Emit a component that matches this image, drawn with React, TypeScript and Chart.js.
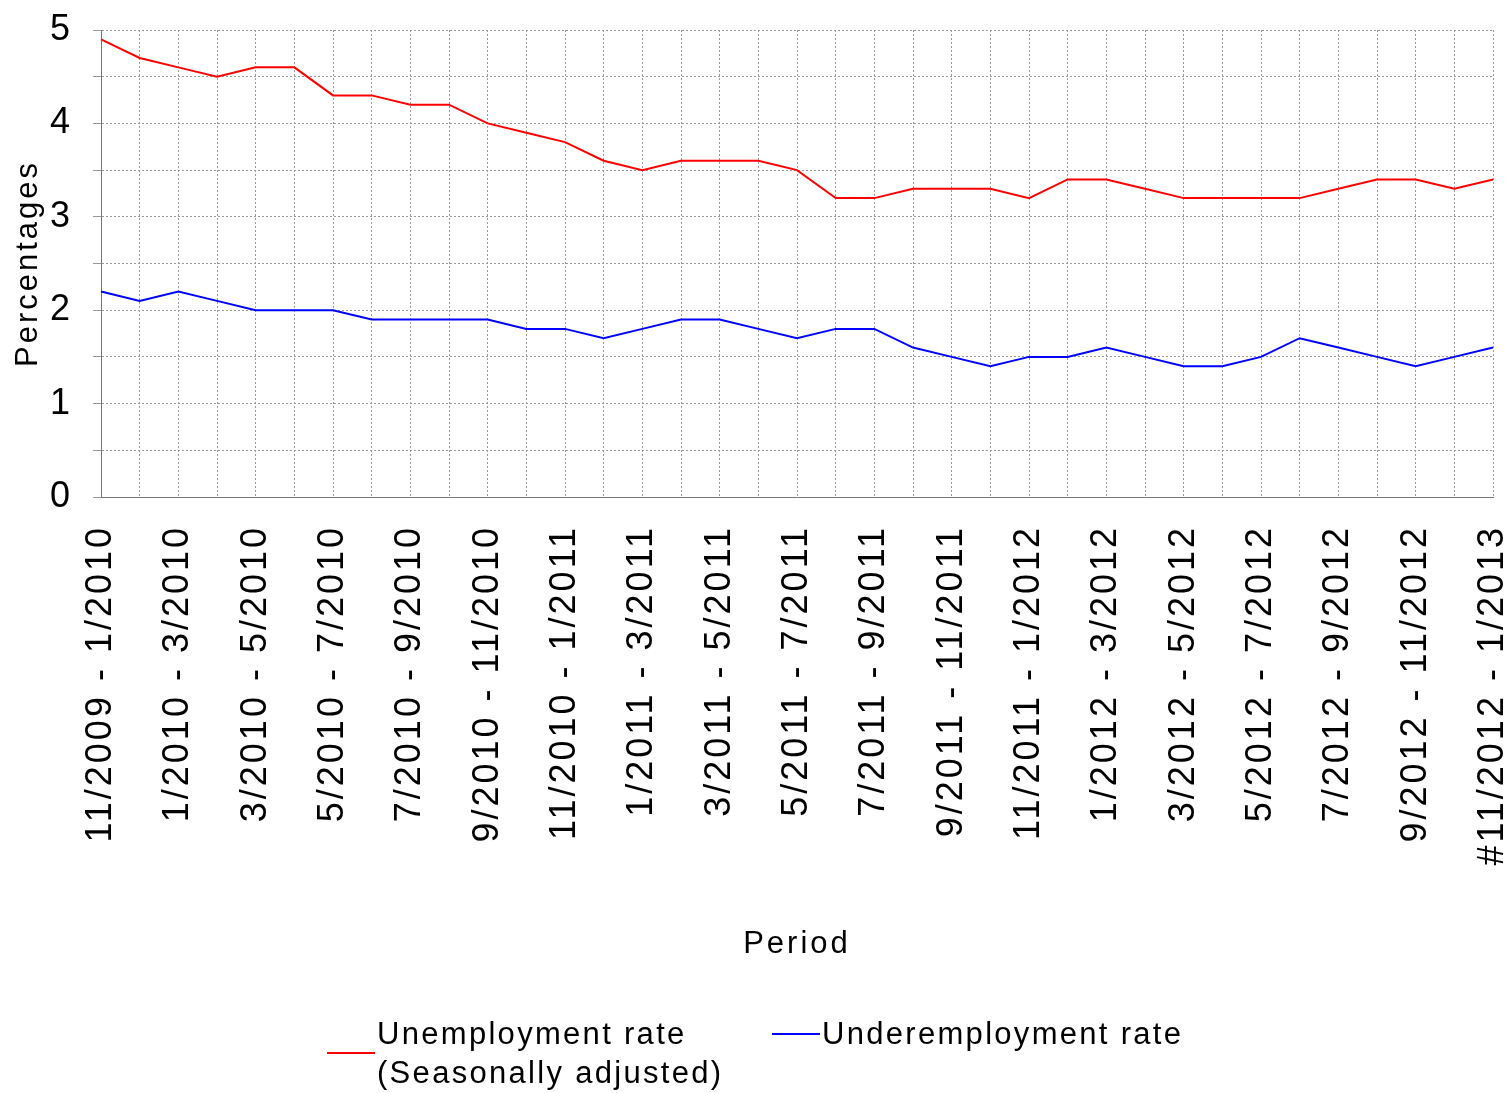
import React, { useEffect, useRef } from "react";
import { Chart, registerables } from "chart.js";
Chart.register(...registerables);

const periods = [
  "11/2009 - 1/2010","12/2009 - 2/2010","1/2010 - 3/2010","2/2010 - 4/2010","3/2010 - 5/2010","4/2010 - 6/2010",
  "5/2010 - 7/2010","6/2010 - 8/2010","7/2010 - 9/2010","8/2010 - 10/2010","9/2010 - 11/2010","10/2010 - 12/2010",
  "11/2010 - 1/2011","12/2010 - 2/2011","1/2011 - 3/2011","2/2011 - 4/2011","3/2011 - 5/2011","4/2011 - 6/2011",
  "5/2011 - 7/2011","6/2011 - 8/2011","7/2011 - 9/2011","8/2011 - 10/2011","9/2011 - 11/2011","10/2011 - 12/2011",
  "11/2011 - 1/2012","12/2011 - 2/2012","1/2012 - 3/2012","2/2012 - 4/2012","3/2012 - 5/2012","4/2012 - 6/2012",
  "5/2012 - 7/2012","6/2012 - 8/2012","7/2012 - 9/2012","8/2012 - 10/2012","9/2012 - 11/2012","10/2012 - 12/2012",
  "#11/2012 - 1/2013",
];
const unemployment = [4.9,4.7,4.6,4.5,4.6,4.6,4.3,4.3,4.2,4.2,4.0,3.9,3.8,3.6,3.5,3.6,3.6,3.6,3.5,3.2,3.2,3.3,3.3,3.3,3.2,3.4,3.4,3.3,3.2,3.2,3.2,3.2,3.3,3.4,3.4,3.3,3.4];
const underemployment = [2.2,2.1,2.2,2.1,2.0,2.0,2.0,1.9,1.9,1.9,1.9,1.8,1.8,1.7,1.8,1.9,1.9,1.8,1.7,1.8,1.8,1.6,1.5,1.4,1.5,1.5,1.6,1.5,1.4,1.4,1.5,1.7,1.6,1.5,1.4,1.5,1.6];

const FONT = "'Liberation Sans', Arial, sans-serif";

export default function App() {
  const ref = useRef<HTMLCanvasElement>(null);
  useEffect(() => {
    const spacingPlugin = {
      id: "spacing",
      beforeInit(chart: any) { (chart.ctx as any).letterSpacing = "3px"; },
      beforeDraw(chart: any) { (chart.ctx as any).letterSpacing = "3px"; },
    };
    const legendPlugin = {
      id: "customLegend",
      afterDraw(chart: any) {
        const c = chart.ctx;
        c.save();
        c.font = `31px ${FONT}`;
        (c as any).letterSpacing = "2.3px";
        c.fillStyle = "#000";
        c.textBaseline = "middle";
        c.lineWidth = 2;
        c.strokeStyle = "#ff0000";
        c.beginPath(); c.moveTo(327, 1053); c.lineTo(375, 1053); c.stroke();
        c.fillText("Unemployment rate", 377, 1035);
        c.fillText("(Seasonally adjusted)", 377, 1074);
        c.strokeStyle = "#0000ff";
        c.beginPath(); c.moveTo(772, 1034); c.lineTo(820, 1034); c.stroke();
        c.fillText("Underemployment rate", 822, 1035);
        c.restore();
      },
    };
    const chart = new Chart(ref.current!, {
      type: "line",
      data: {
        labels: periods,
        datasets: [
          { label: "Unemployment rate (Seasonally adjusted)", data: unemployment, borderColor: "#ff0000", borderWidth: 2, pointRadius: 0, tension: 0 },
          { label: "Underemployment rate", data: underemployment, borderColor: "#0000ff", borderWidth: 2, pointRadius: 0, tension: 0 },
        ],
      },
      options: {
        animation: false,
        responsive: false,
        layout: { padding: { top: 30, right: 18, bottom: 125, left: 10 } },
        plugins: { legend: { display: false }, tooltip: { enabled: false } },
        scales: {
          x: {
            offset: false,
            afterFit: (s: any) => { s.height = 471; s.paddingLeft = 0; s.paddingRight = 0; },
            grid: { color: "#999", borderDash: [2, 2], drawTicks: false } as any,
            border: { color: "#777", dash: [2, 2] } as any,
            ticks: {
              autoSkip: false, maxRotation: 90, minRotation: 90, padding: 28,
              color: "#000", font: { size: 36, family: FONT },
              callback: (_v: any, i: number) => (i % 2 === 0 ? periods[i] : ""),
            },
            title: { display: true, text: "Period", color: "#000", font: { size: 31, family: FONT }, padding: { top: 0, bottom: 5 } },
          },
          y: {
            min: 0, max: 5,
            afterFit: (s: any) => { s.width = 91; s.paddingTop = 0; s.paddingBottom = 0; },
            grid: { color: "#999", tickLength: 8 } as any,
            border: { color: "#777", dash: [2, 2] } as any,
            ticks: {
              stepSize: 0.5, color: "#000", font: { size: 36, family: FONT }, padding: 20,
              callback: (v: any) => (Number.isInteger(v) ? String(v) : ""),
            },
            title: { display: true, text: "Percentages", color: "#000", font: { size: 31, family: FONT }, padding: 0 },
          },
        },
      },
      plugins: [spacingPlugin, legendPlugin],
    });
    return () => chart.destroy();
  }, []);
  return (
    <div style={{ position: "fixed", left: 0, top: 0, width: 1511, height: 1093, background: "#fff" }}>
      <canvas ref={ref} width={1511} height={1093} />
    </div>
  );
}
